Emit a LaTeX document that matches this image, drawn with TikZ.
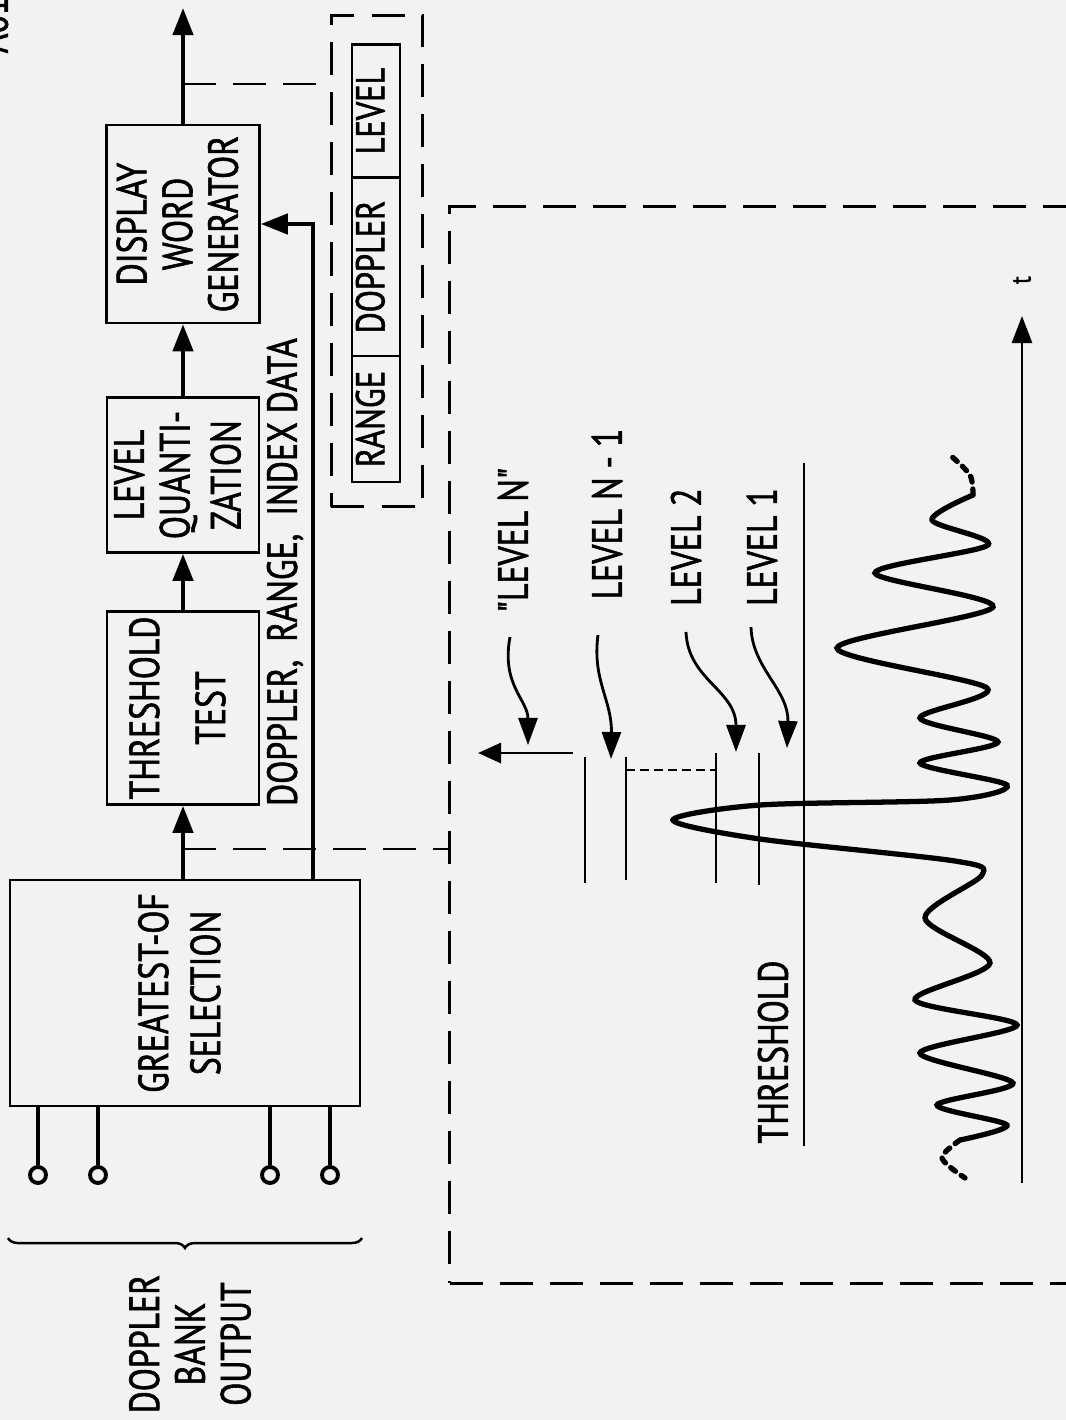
\documentclass[tikz,border=0pt]{standalone}
\usepackage{fontspec}
\setmainfont{PT Sans}[FakeStretch=0.8, FakeBold=1.3]
\newfontfamily\plainq{PT Sans}[FakeStretch=0.8, FakeBold=1.3]
\usepackage{graphicx}
\usetikzlibrary{arrows.meta,positioning,calc,decorations.pathreplacing}
\definecolor{paper}{RGB}{242,242,242}
\newcommand{\vtext}[1]{\rotatebox{90}{\begin{tabular}{@{}c@{}}#1\end{tabular}}}

\begin{document}
\begin{tikzpicture}[x=0.01cm, y=-0.01cm, >={Triangle[length=0.27cm, width=0.2cm]},
  font=\fontsize{12}{13}\selectfont,
  block/.style={draw, line width=0.7pt, inner sep=0pt},
  cell/.style={draw, line width=0.7pt, inner sep=0pt, minimum width=0.48cm, font=\fontsize{11.5}{12}\selectfont},
  sig/.style={->, line width=1.2pt},
  dashline/.style={line width=0.75pt, dash pattern=on 0.33cm off 0.17cm},
  dashbox/.style={draw, line width=0.75pt, dash pattern=on 0.33cm off 0.17cm, inner sep=0pt},
  lbl/.style={rotate=90, align=center, inner sep=2pt},
  lvl/.style={line width=0.7pt},
  curvy/.style={->, line width=0.8pt, >={Triangle[length=0.27cm, width=0.19cm]}},
  wave/.style={line width=1.5pt, line cap=round}]
  \fill[paper] (0,0) rectangle (1066,1420);
  \useasboundingbox (0,0) rectangle (1066,1420);

  % blocks
  \node[block, minimum width=3.5cm, minimum height=2.26cm] (sel) at (185,993) {\vtext{GREATEST-OF\\[1.8pt] SELECTION}};
  \node[block, minimum width=1.52cm, minimum height=1.93cm] (thr) at (183,708) {\vtext{THRESHOLD\\[5.8pt] TEST}};
  \node[block, minimum width=1.52cm, minimum height=1.55cm] (lq) at (183,475) {\vtext{LEVEL\\ QUANTI-\\[1.5pt] ZATION}};
  \node[block, minimum width=1.53cm, minimum height=1.98cm] (dwg) at (183,224) {\vtext{DISPLAY\\ WORD\\ GENERATOR}};
  \coordinate (out) at (183,8);
  \draw[sig] (sel.north -| thr) -- (thr.south);
  \draw[sig] (thr.north) -- (lq.south);
  \draw[sig] (lq.north) -- (dwg.south);
  \draw[sig] (dwg.north) -- (out);

  % index data
  \coordinate (dtap) at (313,880);
  \draw[sig] (dtap) |- (dwg.east);
  \node[lbl] (idx) at (285,572) {DOPPLER,\ \ RANGE,\ \ INDEX DATA};

  % inputs
  \foreach \i/\x in {1/38, 2/98, 3/270, 4/330} {
    \node[draw, circle, line width=1.1pt, minimum size=0.16cm, inner sep=0pt] (in\i) at (\x,1175) {};
    \draw[line width=1.1pt] (in\i.north) -- (in\i.north |- sel.south);
  }
  \draw[decorate, decoration={brace, amplitude=0.1cm}, line width=0.7pt] (362,1238) -- (8,1238);
  \node[lbl] (dbo) at (190,1344) {DOPPLER\\ BANK\\ OUTPUT};

  % display word
  \node[dashbox, minimum width=0.91cm, minimum height=4.91cm] (wbox) at (377,261) {};
  \node[cell, minimum height=1.33cm] (wlev) at (376,111) {\vtext{LEVEL}};
  \node[cell, minimum height=1.78cm] (wdop) at (376,267) {\vtext{DOPPLER}};
  \node[cell, minimum height=1.26cm] (wrng) at (376,419) {\vtext{RANGE}};
  \coordinate (tapB) at (183,84);
  \draw[dashline] (tapB) -- (tapB -| wbox.west);

  % level picture
  \node[dashbox, minimum width=6.5cm, minimum height=10.76cm] (plotbox) at (775,745) {};
  \coordinate (tapA) at (183,849);
  \draw[dashline] (tapA) -- (tapA -| plotbox.west);

  \draw[lvl] (804,463) -- (804,1146);
  \node[lbl, inner sep=0pt] (thl) at (773,1052) {THRESHOLD};
  \draw[->, line width=0.8pt] (1022,1183) -- (1022,316);
  \node[lbl, inner sep=0pt, font=\fontsize{8}{8}\selectfont] (tl) at (1022,280) {t};

  \foreach \x/\a/\b in {585/757/883, 626/757/880, 716/753/883, 759/753/885}
    \draw[lvl] (\x,\a) -- (\x,\b);
  \draw[line width=0.5pt, dash pattern=on 0.09cm off 0.05cm] (626,770) -- (716,770);
  \coordinate (lnA) at (573,753);
  \coordinate (lnB) at (478,753);
  \draw[->, line width=0.8pt, >={Triangle[length=0.23cm, width=0.2cm]}] (lnA) -- (lnB);

  \node[lbl] (levN) at (513,540) {{\plainq"}LEVEL N{\plainq"}};
  \node[lbl] (levNm) at (607,514) {LEVEL N - 1};
  \node[lbl] (lev2) at (686,547) {LEVEL 2};
  \node[lbl] (lev1) at (762,547) {LEVEL 1};
  \coordinate (tN) at (528,745);
  \coordinate (tNm) at (611,759);
  \coordinate (t2) at (736,752);
  \coordinate (t1) at (787,748);
  \draw[curvy] (510,637) .. controls (501,685) and (528,700) .. (tN);
  \draw[curvy] (598,635) .. controls (592,680) and (612,700) .. (tNm);
  \draw[curvy] (686,632) .. controls (688,680) and (736,690) .. (t2);
  \draw[curvy] (751,627) .. controls (752,668) and (789,690) .. (t1);

  % signal
  \draw[wave] plot[smooth, tension=0.5] coordinates {(973,495) (932,520) (988,545) (875,573) (993,607) (837,648) (987,688) (920,718) (998,742) (920,763) (1007,785) (950,800) (760,805) (673,820) (760,839) (955,861) (982,875) (925,918) (990,963) (915,1000) (1017,1025) (920,1053) (1013,1083) (937,1105) (1007,1125) (960,1140)};
  \draw[wave, dash pattern=on 0.06cm off 0.07cm] plot[smooth] coordinates {(973,495) (970,475) (950,455)};
  \draw[wave, dash pattern=on 0.06cm off 0.07cm] plot[smooth] coordinates {(960,1140) (942,1158) (965,1178)};

  % page mark
  \node[lbl, inner sep=0pt] (mark) at (-7,25) {A01};
\end{tikzpicture}
\end{document}
